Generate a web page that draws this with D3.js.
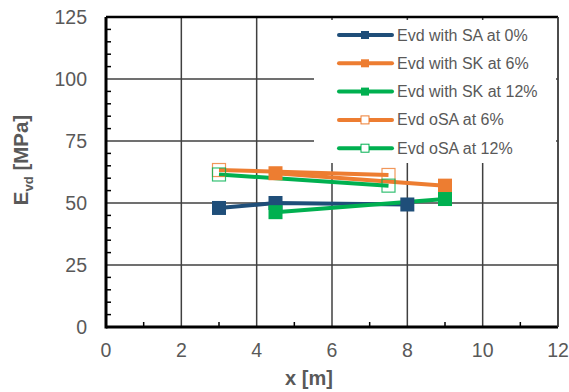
<!DOCTYPE html>
<html>
<head>
<meta charset="utf-8">
<script src="https://cdn.jsdelivr.net/npm/d3@7"></script>
<style>
  body { margin: 0; background: #fff; }
  text { font-family: "Liberation Sans", Arial, sans-serif; fill: #595959; }
</style>
</head>
<body>
<div id="wrapper"></div>
<script>
// series data
const saAt0 = [{x: 3, y: 48}, {x: 4.5, y: 50}, {x: 8, y: 49.4}];
const skAt6 = [{x: 4.5, y: 62}, {x: 9, y: 57}];
const skAt12 = [{x: 4.5, y: 46.3}, {x: 9, y: 51.6}];
const osaAt6 = [{x: 3, y: 63.3}, {x: 7.5, y: 61.3}];
const osaAt12 = [{x: 3, y: 61.5}, {x: 7.5, y: 57}];

const seriesNames = ["Evd with SA at 0%", "Evd with SK at 6%", "Evd with SK at 12%", "Evd oSA at 6%", "Evd oSA at 12%"];
const xTicks = [0, 2, 4, 6, 8, 10, 12];
const yTicks = [0, 25, 50, 75, 100, 125];

const series = [
  {name: seriesNames[0], data: saAt0, color: "#1F4E79", open: false},
  {name: seriesNames[1], data: skAt6, color: "#ED7D31", open: false},
  {name: seriesNames[2], data: skAt12, color: "#00B050", open: false},
  {name: seriesNames[3], data: osaAt6, color: "#ED7D31", open: true},
  {name: seriesNames[4], data: osaAt12, color: "#00B050", open: true}
];

const width = 569, height = 392;
const margin = {top: 17, right: 11, bottom: 65, left: 106};

const svg = d3.select("#wrapper").append("svg")
  .attr("width", width)
  .attr("height", height);

const x = d3.scaleLinear().domain([0, 12]).range([margin.left, width - margin.right]);
const y = d3.scaleLinear().domain([0, 125]).range([height - margin.bottom, margin.top]);

// grid
svg.append("g").selectAll("line.vgrid")
  .data(xTicks.filter(d => d > 0))
  .enter().append("line")
  .attr("x1", d => x(d)).attr("x2", d => x(d))
  .attr("y1", y(0)).attr("y2", y(125))
  .style("stroke", "#404040").style("stroke-width", 1.5);

svg.append("g").selectAll("line.hgrid")
  .data(yTicks.filter(d => d > 0))
  .enter().append("line")
  .attr("x1", x(0)).attr("x2", x(12))
  .attr("y1", d => y(d)).attr("y2", d => y(d))
  .style("stroke", "#404040").style("stroke-width", 1.5);

// minor ticks
svg.append("g").selectAll("line")
  .data(d3.range(5, 125, 5).filter(d => d % 25 != 0))
  .enter().append("line")
  .attr("x1", x(0)).attr("x2", x(0) + 5)
  .attr("y1", d => y(d)).attr("y2", d => y(d))
  .style("stroke", "#000").style("stroke-width", 1.5);

svg.append("g").selectAll("line")
  .data(d3.range(1, 12, 2))
  .enter().append("line")
  .attr("x1", d => x(d)).attr("x2", d => x(d))
  .attr("y1", y(0)).attr("y2", y(0) - 5)
  .style("stroke", "#000").style("stroke-width", 1.5);

// axes lines
svg.append("line")
  .attr("x1", x(0)).attr("x2", x(12)).attr("y1", y(0)).attr("y2", y(0))
  .style("stroke", "#000").style("stroke-width", 3);
svg.append("line")
  .attr("x1", x(0)).attr("x2", x(0)).attr("y1", y(0) + 1.5).attr("y2", y(125))
  .style("stroke", "#000").style("stroke-width", 3);

// tick labels
svg.append("g").selectAll("text")
  .data(yTicks)
  .enter().append("text")
  .attr("x", 87)
  .attr("y", d => y(d) + 7)
  .style("text-anchor", "end")
  .style("font-size", "19.5px")
  .text(d => d);

svg.append("g").selectAll("text")
  .data(xTicks)
  .enter().append("text")
  .attr("x", d => x(d))
  .attr("y", 357)
  .style("text-anchor", "middle")
  .style("font-size", "19.5px")
  .text(d => d);

// axis titles
const yTitle = svg.append("text")
  .attr("transform", "translate(28,160) rotate(-90)")
  .style("text-anchor", "middle")
  .style("font-size", "20.5px")
  .style("font-weight", "bold");
yTitle.append("tspan").text("E");
yTitle.append("tspan").attr("dy", 5).style("font-size", "13px").text("vd");
yTitle.append("tspan").attr("dy", -5).text(" [MPa]");

svg.append("text")
  .attr("x", 309)
  .attr("y", 385)
  .style("text-anchor", "middle")
  .style("font-size", "20px")
  .style("font-weight", "bold")
  .text("x [m]");

// legend background
const legend = svg.append("g");
legend.append("rect")
  .attr("x", 314).attr("y", 20)
  .attr("width", 242).attr("height", 143)
  .style("fill", "#fff");

// series lines
const line = d3.line().x(d => x(d.x)).y(d => y(d.y));
svg.append("g").selectAll("path")
  .data(series)
  .enter().append("path")
  .attr("d", d => line(d.data))
  .style("fill", "none")
  .style("stroke", d => d.color)
  .style("stroke-width", 4);

// markers
series.forEach(s => {
  svg.append("g").selectAll("rect")
    .data(s.data)
    .enter().append("rect")
    .attr("x", d => x(d.x) - (s.open ? 6.5 : 7))
    .attr("y", d => y(d.y) - (s.open ? 6.5 : 7))
    .attr("width", s.open ? 13 : 14)
    .attr("height", s.open ? 13 : 14)
    .style("fill", s.open ? "none" : s.color)
    .style("stroke", s.color)
    .style("stroke-opacity", s.open ? 0.8 : 0)
    .style("stroke-width", 1.2);
});

// legend entries
const entry = legend.selectAll("g.entry")
  .data(series)
  .enter().append("g")
  .attr("class", "entry")
  .attr("transform", (d, i) => `translate(0,${35 + i * 28.3})`);

entry.append("line")
  .attr("x1", 339).attr("x2", 392)
  .style("stroke", d => d.color)
  .style("stroke-width", 4)
  .style("stroke-linecap", "round");

entry.append("rect")
  .attr("x", 361).attr("y", -4)
  .attr("width", 8).attr("height", 8)
  .style("fill", d => d.open ? "#fff" : d.color)
  .style("stroke", d => d.color)
  .style("stroke-width", d => d.open ? 1 : 0);

entry.append("text")
  .attr("x", 397)
  .attr("y", 5.5)
  .style("font-size", "16px")
  .text(d => d.name);

// frame top and right
svg.append("line")
  .attr("x1", x(0)).attr("x2", x(12)).attr("y1", y(125)).attr("y2", y(125))
  .style("stroke", "#000").style("stroke-width", 2.5);
svg.append("line")
  .attr("x1", x(12)).attr("x2", x(12)).attr("y1", y(125)).attr("y2", y(0))
  .style("stroke", "#404040").style("stroke-width", 1.5);
</script>
</body>
</html>
